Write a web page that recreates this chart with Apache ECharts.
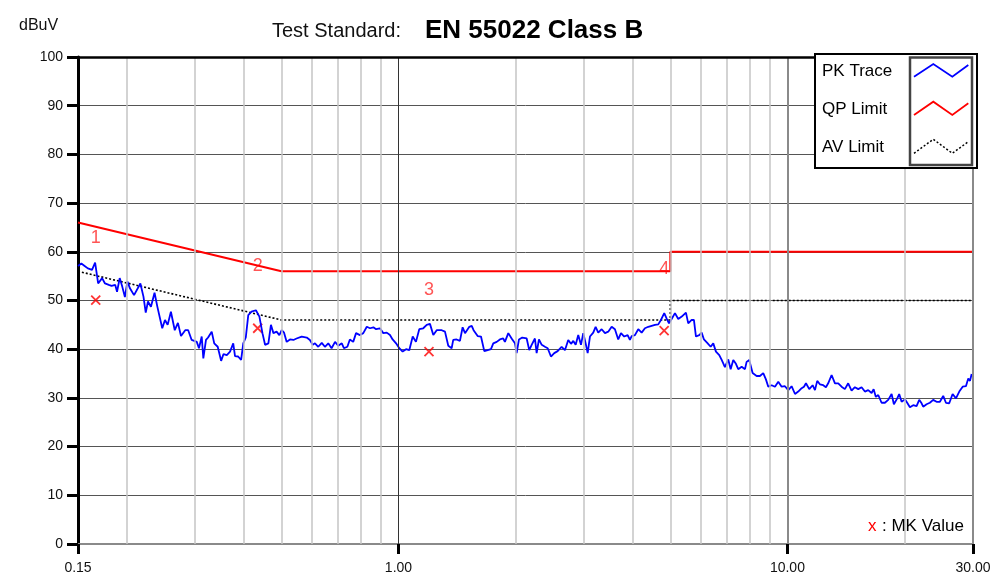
<!DOCTYPE html>
<html><head><meta charset="utf-8">
<script src="https://cdn.jsdelivr.net/npm/echarts@6/dist/echarts.min.js"></script>
<style>html,body{margin:0;padding:0;background:#fff}#c{width:1000px;height:588px}</style>
</head><body><div id="c"></div>
<script>
// ---- data (MHz, dBuV) ----
const pkFreq = [0.150,0.153,0.156,0.159,0.163,0.166,0.169,0.173,0.176,0.180,0.183,0.187,0.189,0.192,0.195,0.198,0.201,0.204,0.209,0.217,
0.221,0.224,0.227,0.231,0.236,0.240,0.247,0.251,0.255,0.260,0.266,0.271,0.276,0.283,0.288,0.294,0.303,0.307,0.312,0.315,
0.320,0.324,0.331,0.336,0.343,0.350,0.355,0.362,0.369,0.376,0.380,0.387,0.394,0.399,0.405,0.411,0.419,0.430,0.439,0.447,
0.454,0.463,0.470,0.477,0.486,0.494,0.501,0.508,0.516,0.526,0.537,0.547,0.564,0.581,0.592,0.602,0.610,0.622,0.635,0.647,
0.660,0.673,0.687,0.700,0.715,0.724,0.739,0.750,0.765,0.778,0.796,0.812,0.829,0.845,0.862,0.876,0.896,0.914,0.933,0.951,
0.966,0.986,1.005,1.025,1.046,1.066,1.088,1.109,1.131,1.158,1.182,1.205,1.229,1.254,1.292,1.317,1.343,1.370,1.383,1.411,
1.439,1.462,1.483,1.521,1.543,1.560,1.598,1.630,1.662,1.696,1.729,1.753,1.789,1.823,1.859,1.878,1.916,1.954,1.993,2.013,
2.041,2.081,2.136,2.169,2.200,2.243,2.266,2.297,2.335,2.380,2.419,2.466,2.515,2.566,2.627,2.679,2.732,2.777,2.815,2.855,
2.899,2.946,2.986,3.029,3.065,3.107,3.168,3.213,3.263,3.330,3.396,3.462,3.533,3.602,3.673,3.733,3.806,3.883,3.936,3.977,
4.055,4.135,4.219,4.302,4.388,4.476,4.565,4.655,4.730,4.823,4.893,4.960,5.039,5.139,5.240,5.350,5.484,5.559,5.672,5.749,
5.819,5.933,6.018,6.101,6.221,6.348,6.447,6.550,6.680,6.776,6.908,7.045,7.146,7.257,7.373,7.474,7.627,7.778,7.854,7.976,
8.138,8.333,8.498,8.666,8.805,8.928,9.109,9.289,9.473,9.664,9.855,10.05,10.25,10.46,10.66,10.88,11.03,11.16,11.38,11.61,
11.77,11.93,12.12,12.36,12.56,12.73,12.99,13.25,13.51,13.78,14.05,14.33,14.62,14.91,15.21,15.51,15.82,16.13,16.46,16.66,
16.88,17.12,17.46,17.81,18.16,18.53,18.78,19.16,19.38,19.66,20.05,20.32,20.65,21.06,21.48,21.82,22.13,22.34,22.79,23.24,
23.70,24.18,24.66,25.15,25.56,26.06,26.59,27.12,27.66,28.22,28.77,29.17,29.47,29.76];
const pkLevel = [57.1,57.6,57.1,56.6,56.3,57.8,53.5,54.6,53.5,53.2,53.0,53.2,51.8,54.6,52.8,50.7,53.9,52.5,51.1,53.5,
50.8,47.5,49.8,48.7,51.6,48.7,44.3,46.0,45.0,47.7,43.9,45.4,42.7,43.9,43.9,41.9,41.5,40.2,42.6,38.1,
41.9,42.4,43.6,41.2,40.5,37.6,39.0,38.8,39.5,41.2,38.6,38.5,37.8,41.2,42.4,47.0,47.7,48.0,46.7,43.3,
40.9,41.2,45.0,43.3,43.6,42.9,43.9,43.4,41.5,42.0,41.9,42.2,42.6,42.4,41.9,40.9,41.2,40.5,41.3,40.5,
41.2,40.2,41.5,40.7,41.2,40.2,40.5,42.0,41.5,43.3,42.9,43.3,44.6,44.3,44.5,44.1,44.3,43.3,43.4,42.9,
42.0,41.2,40.2,39.5,40.0,39.8,42.6,41.5,44.1,44.3,45.0,45.2,42.9,43.9,43.9,43.6,40.7,40.2,41.9,42.0,
41.7,44.5,43.3,44.6,44.8,43.9,42.7,42.6,39.6,39.8,40.0,41.2,41.5,42.0,42.2,41.5,43.3,42.2,41.2,39.2,
42.0,42.4,42.2,39.8,40.9,42.2,39.2,42.0,40.9,40.5,40.2,38.5,39.2,39.6,40.5,39.8,41.9,41.1,41.7,40.9,
42.9,40.9,43.3,41.2,39.2,42.6,43.4,44.6,43.4,44.1,43.3,43.6,44.6,44.1,42.0,43.3,42.6,42.9,41.9,42.7,
42.9,44.1,43.4,44.3,44.6,44.8,45.0,45.1,46.0,47.4,46.3,45.3,46.2,47.4,46.2,46.7,47.5,45.3,46.0,46.0,
42.6,42.9,43.4,42.0,41.3,40.5,41.2,39.5,38.8,37.8,36.3,37.9,35.9,37.8,37.0,35.9,36.4,35.9,37.4,37.8,
35.1,34.5,34.5,35.1,33.8,32.3,32.6,32.3,33.3,32.3,32.4,31.6,32.4,30.8,31.3,32.0,32.3,33.0,31.8,32.6,
31.6,33.5,32.8,32.6,32.2,33.0,34.7,33.0,33.0,32.3,31.8,33.0,31.5,32.2,31.8,32.2,31.3,31.6,31.0,31.8,
30.2,30.6,29.0,29.0,29.6,30.8,28.7,29.9,30.8,29.2,29.7,29.0,28.1,28.5,28.3,29.6,28.9,28.2,28.7,29.0,
29.6,29.2,29.2,30.4,29.0,28.9,30.8,29.9,31.3,32.3,32.4,34.0,33.5,34.9];
const qpFreq = [0.15, 0.5, 5, 5, 30];
const qpLevel = [66, 56, 56, 60, 60];
const avFreq = [0.15, 0.5, 5, 5, 30];
const avLevel = [56, 46, 46, 50, 50];
const mkFreq = [0.1666, 0.4346, 1.198, 4.82];
const mkLevel = [50.1, 44.3, 39.5, 43.8];
const mkLabels = ['1', '2', '3', '4'];
const minorGridFreq = [0.2,0.3,0.4,0.5,0.6,0.7,0.8,0.9,2,3,4,5,6,7,8,9,20];
const yTicks = {min: 0, max: 100, interval: 10};
const xRange = {min: 0.15, max: 30};

const FONT = '"Liberation Sans", Arial, sans-serif';
const zip = (a, b) => a.map((v, i) => [v, b[i]]);

const gridLines = minorGridFreq.map(f => ({xAxis: f, lineStyle: {color: '#c4c4c4', width: 1.5, type: 'solid'}}))
  .concat([
    {xAxis: 1, lineStyle: {color: '#333', width: 1, type: 'solid'}},
    {xAxis: 10, lineStyle: {color: '#8a8a8a', width: 2, type: 'solid'}},
    {xAxis: xRange.max, lineStyle: {color: '#8a8a8a', width: 2, type: 'solid'}},
    {yAxis: yTicks.max, lineStyle: {color: '#000', width: 2.5, type: 'solid'}}
  ]);

const chart = echarts.init(document.getElementById('c'), null, {renderer: 'canvas'});
chart.setOption({
  animation: false,
  backgroundColor: '#fff',
  grid: {left: 78, right: 27, top: 57, bottom: 44, show: false},
  xAxis: {
    type: 'log', logBase: 10, min: xRange.min, max: xRange.max,
    axisLine: {show: true, lineStyle: {color: '#8a8a8a', width: 2}},
    axisTick: {show: true, length: 10, lineStyle: {color: '#000', width: 3}},
    axisLabel: {show: true, margin: 17, color: '#111', fontSize: 14, fontFamily: FONT,
      formatter: v => Number(v).toFixed(2)},
    splitLine: {show: false},
    minorTick: {show: false}
  },
  yAxis: {
    type: 'value', min: yTicks.min, max: yTicks.max, interval: yTicks.interval,
    axisLine: {show: true, lineStyle: {color: '#000', width: 3}},
    axisTick: {show: true, length: 11, lineStyle: {color: '#000', width: 3}},
    axisLabel: {show: true, margin: 15, color: '#111', fontSize: 14, fontFamily: FONT},
    splitLine: {show: true, lineStyle: {color: '#555', width: 1}}
  },
  series: [
    {
      name: 'AV Limit', type: 'line', data: zip(avFreq, avLevel), symbol: 'none',
      lineStyle: {color: '#000', width: 1.6, type: [2, 2]}, silent: true,
      markLine: {silent: true, symbol: ['none', 'none'], label: {show: false}, animation: false, data: gridLines}
    },
    {
      name: 'QP Limit', type: 'line', data: zip(qpFreq, qpLevel), symbol: 'none',
      lineStyle: {color: '#ff0000', width: 2}, silent: true
    },
    {
      name: 'PK Trace', type: 'line', data: zip(pkFreq, pkLevel), symbol: 'none',
      lineStyle: {color: '#0000ff', width: 1.8}, silent: true
    },
    {
      name: 'MK Value', type: 'scatter', data: zip(mkFreq, mkLevel),
      symbol: 'path://M0,0L10,10M10,0L0,10', symbolSize: 9,
      itemStyle: {color: 'rgba(0,0,0,0)', borderColor: '#ff0000', borderWidth: 1.8},
      label: {show: true, formatter: p => mkLabels[p.dataIndex], position: 'inside', offset: [0, -62],
        color: '#ff2a2a', fontSize: 18, fontFamily: FONT},
      silent: true
    }
  ],
  graphic: [
    {type: 'text', left: 19, top: 18, z: 100, style: {text: 'dBuV', fontSize: 16, fontFamily: FONT, fill: '#111'}},
    {type: 'text', x: 272, y: 31, z: 100, style: {text: 'Test Standard:', fontSize: 20, fontFamily: FONT, fill: '#111', verticalAlign: 'middle'}},
    {type: 'text', x: 425, y: 31, z: 100, style: {text: 'EN 55022 Class B', fontSize: 26, fontWeight: 'bold', fontFamily: FONT, fill: '#000', verticalAlign: 'middle'}},
    {type: 'rect', z: 100, shape: {x: 815, y: 54, width: 162, height: 114}, style: {fill: '#fff', stroke: '#000', lineWidth: 2}},
    {type: 'rect', z: 101, shape: {x: 910, y: 57.5, width: 62, height: 107.5}, style: {fill: 'none', stroke: '#444', lineWidth: 2.5}},
    {type: 'text', x: 822, y: 71, z: 102, style: {text: 'PK Trace', fontSize: 17, fontFamily: FONT, fill: '#000', verticalAlign: 'middle'}},
    {type: 'text', x: 822, y: 109, z: 102, style: {text: 'QP Limit', fontSize: 17, fontFamily: FONT, fill: '#000', verticalAlign: 'middle'}},
    {type: 'text', x: 822, y: 147, z: 102, style: {text: 'AV Limit', fontSize: 17, fontFamily: FONT, fill: '#000', verticalAlign: 'middle'}},
    {type: 'polyline', z: 102, shape: {points: [[914, 76.7], [933.3, 64], [952.3, 76.7], [968.3, 65]]}, style: {stroke: '#0000ff', lineWidth: 1.8, fill: 'none'}},
    {type: 'polyline', z: 102, shape: {points: [[914, 115], [933.3, 101.7], [952.3, 115], [968.3, 103.3]]}, style: {stroke: '#ff0000', lineWidth: 1.8, fill: 'none'}},
    {type: 'polyline', z: 102, shape: {points: [[914, 153.3], [933.3, 139.3], [952.3, 153.3], [968.3, 141.7]]}, style: {stroke: '#000', lineWidth: 1.5, fill: 'none', lineDash: [2, 2]}},
    {type: 'text', x: 868, y: 526.5, z: 100, style: {text: 'x', fontSize: 17, fontFamily: FONT, fill: '#ff0000', verticalAlign: 'middle'}},
    {type: 'text', x: 882, y: 526.5, z: 100, style: {text: ': MK Value', fontSize: 17, fontFamily: FONT, fill: '#000', verticalAlign: 'middle'}}
  ]
});
</script>
</body></html>
